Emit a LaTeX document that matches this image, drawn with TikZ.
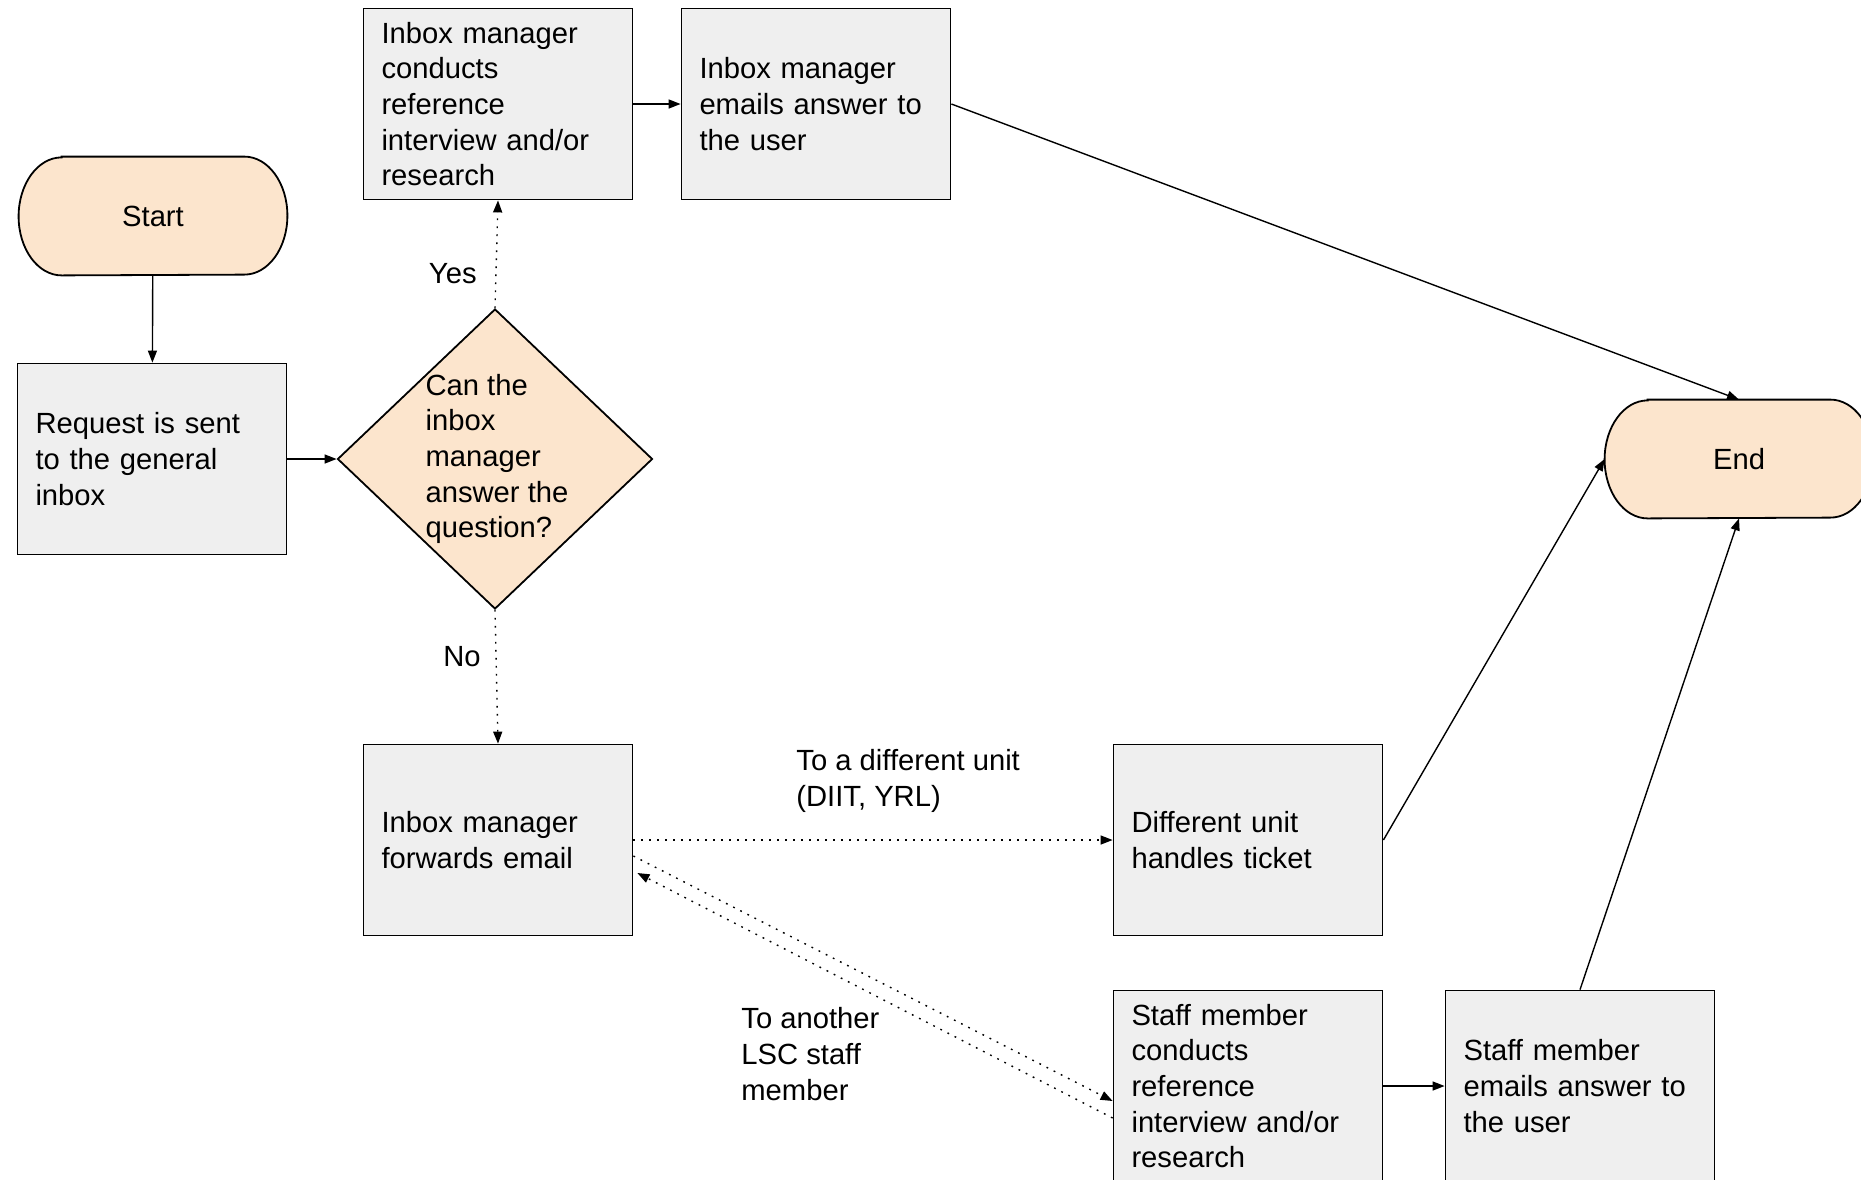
\documentclass[tikz,border=0pt]{standalone}
\usepackage{fontspec}
\setmainfont{Liberation Sans}
\usetikzlibrary{shapes.geometric,arrows.meta,calc,backgrounds}
\definecolor{boxfill}{HTML}{EFEFEF}
\definecolor{termfill}{HTML}{FCE5CD}
\begin{document}
\begin{tikzpicture}[x=0.5pt,y=-0.5pt,
  every node/.style={font=\fontsize{14.6pt}{17.8pt}\selectfont},
  procbox/.style={draw=black, line width=0.9pt, fill=boxfill, rectangle,
    minimum width=134.5pt, minimum height=95.5pt, text width=116.5pt,
    inner xsep=9pt, inner ysep=0pt, align=left},
  termnode/.style={rectangle, minimum width=134pt, minimum height=59pt, inner sep=0pt},
  termshape/.style={draw=black, line width=0.9pt, fill=termfill},
  decshape/.style={diamond, draw=black, line width=0.9pt, fill=termfill,
    minimum width=157.5pt, minimum height=150pt, inner sep=0pt},
  arr/.style={-{Triangle[length=6pt,width=4.5pt]}, line width=0.7pt},
  dotarr/.style={arr, dash pattern=on 0.9pt off 3.1pt},
  lbl/.style={align=left, inner sep=0pt}]

\path[use as bounding box] (0,0) rectangle (1861,1179);

% nodes
\node[termnode] (start) at (153,216) {Start};
\node[procbox] (req) at (152,459) {Request is sent\\to the general\\inbox};
\node[decshape] (dec) at (495,459) {};
\node[lbl] (dectext) at (497,459) {Can the\\inbox\\manager\\answer the\\question?};
\node[procbox] (box1) at (498,104) {Inbox manager\\conducts\\reference\\interview and/or\\research};
\node[procbox] (box2) at (816,104) {Inbox manager\\emails answer to\\the user};
\node[procbox] (fwd) at (498,840) {Inbox manager\\forwards email};
\node[procbox] (diff) at (1248,840) {Different unit\\handles ticket};
\node[procbox] (staff) at (1248,1086) {Staff member\\conducts\\reference\\interview and/or\\research};
\node[procbox] (semail) at (1580,1086) {Staff member\\emails answer to\\the user};
\node[termnode] (end) at (1739,459) {End};

% terminator outlines
\begin{scope}[on background layer]
\foreach \n in {start,end} {
  \draw[termshape] ([xshift=21.5pt]\n.north west) -- ([xshift=-21.5pt]\n.north east)
    arc[start angle=90,end angle=-90,x radius=21.5pt,y radius=29.5pt]
    -- ([xshift=21.5pt]\n.south west)
    arc[start angle=270,end angle=90,x radius=21.5pt,y radius=29.5pt] -- cycle;
}
\end{scope}

% labels
\node[lbl, anchor=east] (yes) at (477,274) {Yes};
\node[lbl, anchor=east] (no) at (481,657) {No};
\node[lbl, anchor=west] (unitlbl) at (796,781) {To a different unit\\(DIIT, YRL)};
\node[lbl, anchor=west] (stafflbl) at (741,1054) {To another\\LSC staff\\member};

% connectors
\draw[arr] (start) -- (req);
\draw[arr] (req) -- (dec);
\draw[dotarr] (dec.north) -- (box1.south);
\draw[dotarr] (dec.south) -- (fwd.north);
\draw[arr] (box1) -- (box2);
\draw[arr] (box2.east) -- (end.north);
\draw[dotarr] (fwd) -- (diff);
\draw[dotarr] ($(fwd.east)+(0,16)$) -- ($(staff.west)+(0,15)$);
\draw[dotarr] ($(staff.west)+(0,32)$) -- ($(fwd.east)+(4,33)$);
\draw[arr] (diff.east) -- (end.west);
\draw[arr] (staff) -- (semail);
\draw[arr] (semail.north) -- (end.south);
\end{tikzpicture}
\end{document}
